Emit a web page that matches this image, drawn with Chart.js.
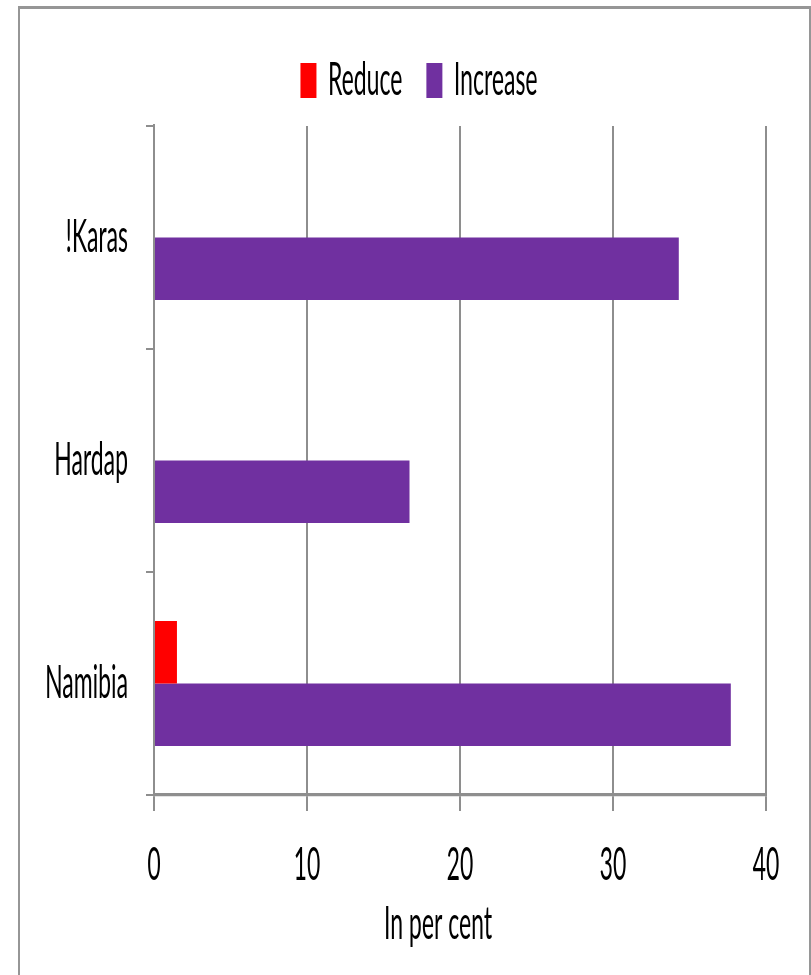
<!DOCTYPE html>
<html>
<head>
<meta charset="utf-8">
<title>Reduce / Increase by region</title>
<script src="https://cdn.jsdelivr.net/npm/chart.js@4.4.0/dist/chart.umd.min.js"></script>
<style>
  html, body { margin: 0; padding: 0; background: #fff; overflow: hidden; }
  /* chart-area frame */
  #frame {
    position: absolute; left: 18px; top: 6px; width: 793px; height: 1000px;
    border: 2px solid #969696; border-top-width: 3px; box-sizing: border-box;
  }
  /* the chart is drawn at half height and stretched 2x vertically (tall narrow text) */
  #stage {
    position: absolute; left: 0; top: 0; width: 811px; height: 488px;
    transform: scale(1, 2); transform-origin: 0 0;
  }
</style>
</head>
<body>
<div id="frame"></div>
<div id="stage"><canvas id="chart" width="811" height="488"></canvas></div>

<script>
// ── Data ──
const regions = ['!Karas', 'Hardap', 'Namibia'];
const reduceVals = [0, 0, 1.5];
const increaseVals = [34.3, 16.7, 37.7];
const xTicks = [0, 10, 20, 30, 40];

const AXIS_GREY = '#8e8e8e';

Chart.defaults.font.family = 'Lato, "Open Sans", sans-serif';
Chart.defaults.font.size = 23;
Chart.defaults.color = '#000';

// legend and axis caption sit a little right of the plot centre
const shiftBlocks = {
  id: 'shiftBlocks',
  afterLayout(chart) {
    const moves = [[chart.legend, 26, -1.25], [chart.titleBlock, 45, 0]];
    moves.forEach(([box, dx, dy]) => {
      if (!box) return;
      box.left += dx;
      box.right += dx;
      box.top += dy;
      box.bottom += dy;
    });
  }
};

new Chart(document.getElementById('chart'), {
  type: 'bar',
  data: {
    labels: regions,
    datasets: [
      { label: 'Reduce', data: reduceVals, backgroundColor: '#ff0000' },
      { label: 'Increase', data: increaseVals, backgroundColor: '#7030a0' }
    ]
  },
  options: {
    indexAxis: 'y',
    responsive: false,
    devicePixelRatio: 2,
    animation: false,
    events: [],
    categoryPercentage: 0.56,
    barPercentage: 1,
    layout: { padding: { left: 20, right: 45, top: 6, bottom: 11.9 } },
    plugins: {
      tooltip: { enabled: false },
      legend: {
        position: 'top',
        labels: { boxWidth: 16, boxHeight: 17.5, padding: 24 }
      },
      title: {
        display: true,
        position: 'bottom',
        text: 'In per cent',
        color: '#000',
        font: { size: 23, weight: 'normal' },
        padding: { top: -11, bottom: 0 }
      }
    },
    scales: {
      x: {
        min: xTicks[0], max: xTicks[xTicks.length - 1],
        afterBuildTicks: scale => { scale.ticks = xTicks.map(v => ({ value: v })); },
        grid: { color: AXIS_GREY, lineWidth: 2, tickLength: 8, tickColor: AXIS_GREY, tickWidth: 2 },
        border: { display: true, color: AXIS_GREY, width: 1.6 },
        ticks: { padding: 13.2, maxRotation: 0 }
      },
      y: {
        afterFit: scale => { scale.width = 134; },
        grid: { drawOnChartArea: false, offset: true, tickLength: 8, color: AXIS_GREY, lineWidth: 1 },
        border: { display: true, color: AXIS_GREY, width: 2 },
        ticks: { padding: 18 }
      }
    }
  },
  plugins: [shiftBlocks]
});
</script>
</body>
</html>
